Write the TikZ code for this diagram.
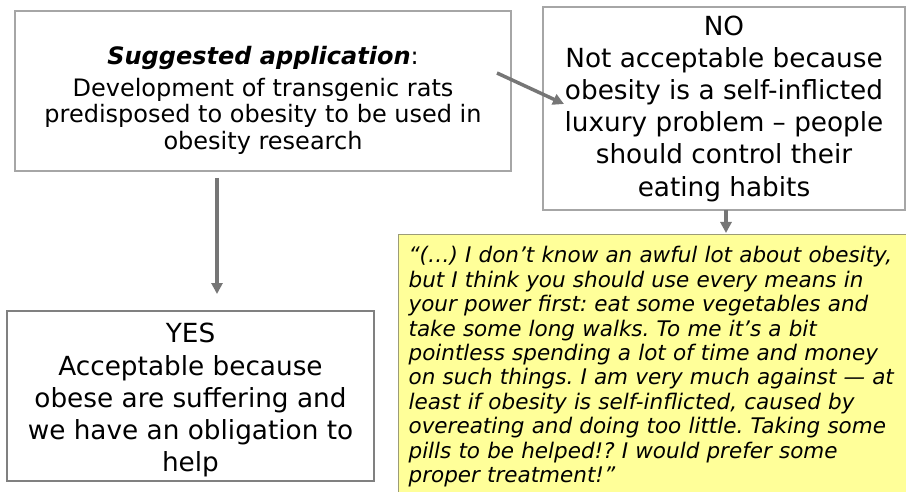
\documentclass[tikz,border=0pt]{standalone}
\usepackage{fontspec}
\setmainfont{DejaVu Sans}
\usetikzlibrary{arrows.meta}
\definecolor{notefill}{HTML}{FFFF99}
\definecolor{notedraw}{HTML}{9C9C78}
\definecolor{boxdraw}{HTML}{A6A6A6}
\definecolor{arrdraw}{HTML}{767676}
\tikzset{box/.style={draw=boxdraw,line width=1.2pt,align=center,inner sep=0pt}}
\tikzset{big/.style={font=\fontsize{26.3}{32.2}\selectfont}}
\tikzset{mid/.style={font=\fontsize{24}{26.5}\selectfont}}
\tikzset{quote/.style={font=\fontsize{21.5}{24.4}\selectfont\itshape\frenchspacing}}
\tikzset{arr/.style={draw=arrdraw,line width=3.5pt,-{Triangle[length=11pt,width=11pt]}}}

\begin{document}
\begin{tikzpicture}[x=1pt,y=-1pt]
          \useasboundingbox (0,0) rectangle (906,492);
          \clip (0,0) rectangle (906,492);
          % boxes
          \node[box,mid,minimum width=496pt,minimum height=160pt] (sugg) at (263,91)
            {\rule{0pt}{37pt}\textbf{\textit{Suggested application}}:\\[5pt]Development of transgenic rats\\predisposed to obesity to be used in\\obesity research};
          \node[box,big,minimum width=362pt,minimum height=203pt] (no) at (724,108.5)
            {NO\\Not acceptable because\\obesity is a self-inflicted\\luxury problem – people\\should control their\\eating habits};
          \node[box,big,draw=gray,minimum width=367pt,minimum height=170pt] (yes) at (190.5,396)
            {\rule{0pt}{28pt}YES\\Acceptable because\\obese are suffering and\\we have an obligation to\\help};
          \node[draw=notedraw,line width=1.2pt,fill=notefill,quote,align=left,anchor=north west,
            inner xsep=10pt,inner ysep=12pt,text width=500pt] (note) at (398,234)
            {“(…) I don’t know an awful lot about obesity,\\but I think you should use every means in\\your power first: eat some vegetables and\\take some long walks. To me it’s a bit\\pointless spending a lot of time and money\\on such things. I am very much against — at\\least if obesity is self-inflicted, caused by\\overeating and doing too little. Taking some\\pills to be helped!? I would prefer some\\proper treatment!”};
          % arrow ends
          \coordinate (s1) at (497,73);
          \coordinate (t1) at (564,104);
          \coordinate (s2) at (217,178);
          \coordinate (t2) at (217,294);
          \coordinate (s3) at (726,210);
          \coordinate (t3) at (726,233);
          \draw[arr] (s1) -- (t1);
          \draw[arr] (s2) -- (t2);
          \draw[arr] (s3) -- (t3);
        \end{tikzpicture}
\end{document}
